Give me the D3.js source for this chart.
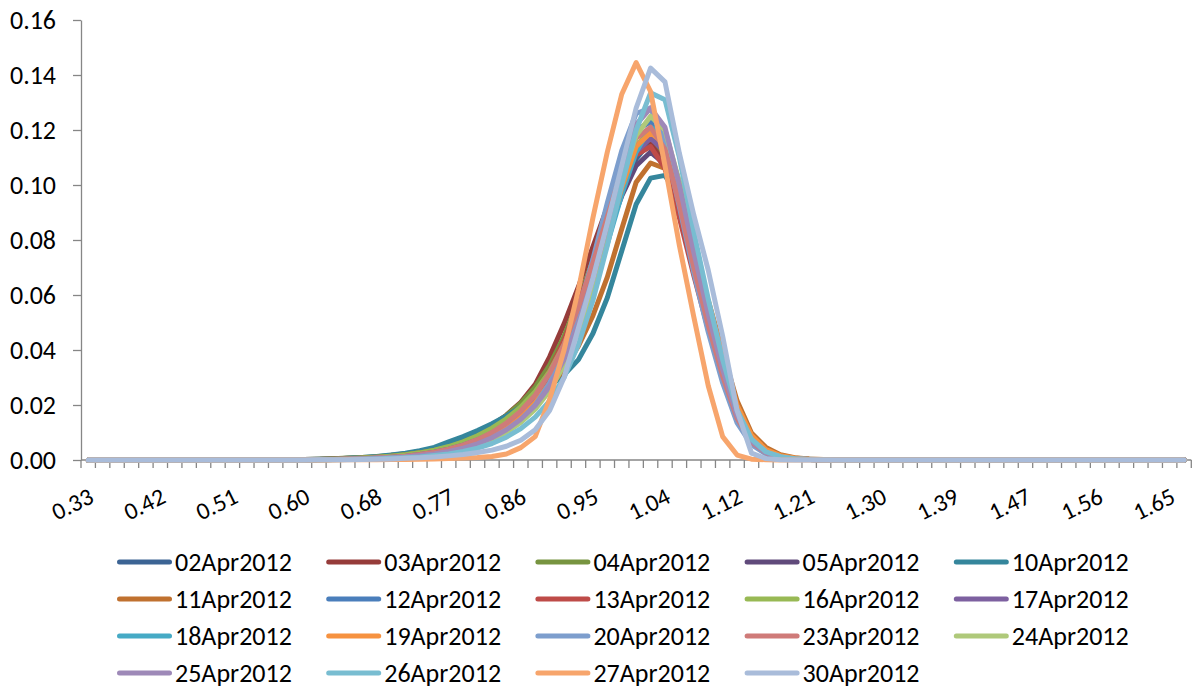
<!DOCTYPE html>
<html>
<head>
<meta charset="utf-8">
<script src="https://cdn.jsdelivr.net/npm/d3@7"></script>
<style>
  html, body { margin: 0; padding: 0; background: #ffffff; }
  svg { display: block; font-family: Carlito, Calibri, Lato, sans-serif; }
</style>
</head>
<body>
<script>
// ---------- DATA ----------
const categories = ["0.33","0.35","0.37","0.39","0.40","0.42","0.44","0.46","0.47","0.49",
  "0.51","0.53","0.54","0.56","0.58","0.60","0.61","0.63","0.65","0.67",
  "0.68","0.70","0.72","0.74","0.75","0.77","0.79","0.81","0.82","0.84",
  "0.86","0.88","0.89","0.91","0.93","0.95","0.96","0.98","1.00","1.02",
  "1.04","1.05","1.07","1.09","1.11","1.12","1.14","1.16","1.18","1.19",
  "1.21","1.23","1.25","1.26","1.28","1.30","1.32","1.33","1.35","1.37",
  "1.39","1.40","1.42","1.44","1.46","1.47","1.49","1.51","1.53","1.54",
  "1.56","1.58","1.60","1.61","1.63","1.65","1.67"];

const yTicks = [0, 0.02, 0.04, 0.06, 0.08, 0.10, 0.12, 0.14, 0.16];

const seriesNames = ["02Apr2012","03Apr2012","04Apr2012","05Apr2012","10Apr2012",
  "11Apr2012","12Apr2012","13Apr2012","16Apr2012","17Apr2012",
  "18Apr2012","19Apr2012","20Apr2012","23Apr2012","24Apr2012",
  "25Apr2012","26Apr2012","27Apr2012","30Apr2012"];

const seriesColors = ["#3C6494","#963C3A","#779440","#604A7B","#35869C",
  "#C0712F","#4A7EBB","#BE4B48","#98B954","#7D60A0",
  "#46AAC5","#F69240","#7D9ECD","#CF7B79","#AFC97A",
  "#9E89B8","#78BDD1","#F7A56C","#A9BCDA"];

const s02Apr = [0,0,0,0,0,0,0,0,0,0,0,0,0,0,
  0.0001,0.0001,0.0002,0.0003,0.0004,0.0006,0.0008,0.0011,0.0016,0.0022,0.0031,0.0043,0.0058,0.0078,0.0103,0.0136,0.0178,0.0233,0.0308,0.0405,0.0525,0.0665,0.0820,0.0975,0.1095,0.1160,0.1105,0.0935,0.0720,0.0515,0.0325,0.0165,0.0072,0.0030,0.0012,0.0005,0.0002,0.0001,
  0,0,0,0,0,0,0,0,0,0,0,0,0,0,0,0,0,0,0,0,0,0,0,0,0];
const s03Apr = [0,0,0,0,0,0,0,0,0,0,0,0,0,0,
  0.0001,0.0002,0.0003,0.0004,0.0006,0.0008,0.0011,0.0015,0.0021,0.0029,0.0040,0.0054,0.0072,0.0096,0.0126,0.0163,0.0210,0.0275,0.0375,0.0495,0.0630,0.0775,0.0920,0.1050,0.1140,0.1160,0.1080,0.0900,0.0690,0.0490,0.0305,0.0155,0.0068,0.0028,0.0011,0.0005,0.0002,0.0001,
  0,0,0,0,0,0,0,0,0,0,0,0,0,0,0,0,0,0,0,0,0,0,0,0,0];
const s04Apr = [0,0,0,0,0,0,0,0,0,0,0,0,0,0,
  0.0001,0.0002,0.0003,0.0005,0.0007,0.0009,0.0012,0.0017,0.0023,0.0031,0.0042,0.0056,0.0074,0.0097,0.0126,0.0162,0.0207,0.0265,0.0345,0.0450,0.0580,0.0725,0.0880,0.1030,0.1140,0.1180,0.1110,0.0935,0.0715,0.0510,0.0320,0.0162,0.0070,0.0029,0.0012,0.0005,0.0002,0.0001,
  0,0,0,0,0,0,0,0,0,0,0,0,0,0,0,0,0,0,0,0,0,0,0,0,0];
const s05Apr = [0,0,0,0,0,0,0,0,0,0,0,0,0,0,
  0.0001,0.0001,0.0002,0.0003,0.0004,0.0006,0.0008,0.0011,0.0016,0.0022,0.0031,0.0043,0.0059,0.0080,0.0107,0.0141,0.0185,0.0243,0.0320,0.0420,0.0540,0.0675,0.0820,0.0960,0.1070,0.1120,0.1075,0.0920,0.0715,0.0515,0.0330,0.0170,0.0075,0.0031,0.0013,0.0005,0.0002,0.0001,
  0,0,0,0,0,0,0,0,0,0,0,0,0,0,0,0,0,0,0,0,0,0,0,0,0];
const s10Apr = [0,0,0,0,0,0,0,0,0,0,0,0,0,0,
  0.0001,0.0002,0.0003,0.0004,0.0006,0.0009,0.0013,0.0018,0.0025,0.0034,0.0046,0.0066,0.0085,0.0107,0.0132,0.0160,0.0192,0.0228,0.0268,0.0310,0.0365,0.0460,0.0590,0.0760,0.0930,0.1025,0.1035,0.0950,0.0770,0.0570,0.0370,0.0195,0.0088,0.0037,0.0015,0.0006,0.0003,0.0001,
  0,0,0,0,0,0,0,0,0,0,0,0,0,0,0,0,0,0,0,0,0,0,0,0,0];
const s11Apr = [0,0,0,0,0,0,0,0,0,0,0,0,0,0,
  0.0001,0.0001,0.0002,0.0003,0.0005,0.0007,0.0010,0.0014,0.0019,0.0026,0.0035,0.0047,0.0062,0.0081,0.0104,0.0132,0.0166,0.0210,0.0265,0.0330,0.0415,0.0525,0.0665,0.0840,0.1010,0.1080,0.1060,0.0930,0.0756,0.0580,0.0395,0.0215,0.0098,0.0046,0.0019,0.0008,0.0004,0.0002,
  0.0001,0,0,0,0,0,0,0,0,0,0,0,0,0,0,0,0,0,0,0,0,0,0,0,0];
const s12Apr = [0,0,0,0,0,0,0,0,0,0,0,0,0,0,
  0.0001,0.0001,0.0002,0.0002,0.0003,0.0005,0.0007,0.0010,0.0014,0.0019,0.0027,0.0037,0.0051,0.0069,0.0093,0.0124,0.0166,0.0222,0.0300,0.0410,0.0550,0.0720,0.0900,0.1070,0.1200,0.1230,0.1130,0.0920,0.0690,0.0480,0.0295,0.0145,0.0062,0.0025,0.0010,0.0004,0.0002,0.0001,
  0,0,0,0,0,0,0,0,0,0,0,0,0,0,0,0,0,0,0,0,0,0,0,0,0];
const s13Apr = [0,0,0,0,0,0,0,0,0,0,0,0,0,0,
  0.0001,0.0001,0.0002,0.0003,0.0004,0.0006,0.0009,0.0012,0.0017,0.0024,0.0033,0.0045,0.0061,0.0082,0.0109,0.0143,0.0186,0.0243,0.0325,0.0435,0.0570,0.0720,0.0870,0.1010,0.1110,0.1140,0.1060,0.0880,0.0670,0.0475,0.0295,0.0148,0.0064,0.0026,0.0010,0.0004,0.0002,0.0001,
  0,0,0,0,0,0,0,0,0,0,0,0,0,0,0,0,0,0,0,0,0,0,0,0,0];
const s16Apr = [0,0,0,0,0,0,0,0,0,0,0,0,0,0,
  0.0001,0.0001,0.0002,0.0003,0.0005,0.0007,0.0010,0.0014,0.0019,0.0026,0.0036,0.0049,0.0066,0.0088,0.0116,0.0150,0.0193,0.0248,0.0322,0.0420,0.0545,0.0690,0.0850,0.1010,0.1140,0.1200,0.1140,0.0960,0.0735,0.0525,0.0330,0.0168,0.0073,0.0030,0.0012,0.0005,0.0002,0.0001,
  0,0,0,0,0,0,0,0,0,0,0,0,0,0,0,0,0,0,0,0,0,0,0,0,0];
const s17Apr = [0,0,0,0,0,0,0,0,0,0,0,0,0,0,
  0.0001,0.0001,0.0002,0.0002,0.0003,0.0005,0.0007,0.0010,0.0014,0.0020,0.0028,0.0039,0.0054,0.0073,0.0098,0.0130,0.0172,0.0228,0.0305,0.0405,0.0530,0.0680,0.0840,0.1000,0.1120,0.1170,0.1120,0.0950,0.0730,0.0520,0.0330,0.0168,0.0073,0.0030,0.0012,0.0005,0.0002,0.0001,
  0,0,0,0,0,0,0,0,0,0,0,0,0,0,0,0,0,0,0,0,0,0,0,0,0];
const s18Apr = [0,0,0,0,0,0,0,0,0,0,0,0,0,0,
  0.0001,0.0001,0.0001,0.0002,0.0003,0.0004,0.0006,0.0008,0.0011,0.0016,0.0022,0.0031,0.0043,0.0059,0.0081,0.0110,0.0148,0.0198,0.0265,0.0355,0.0470,0.0615,0.0785,0.0965,0.1120,0.1210,0.1180,0.1010,0.0780,0.0560,0.0355,0.0180,0.0078,0.0032,0.0013,0.0005,0.0002,0.0001,
  0,0,0,0,0,0,0,0,0,0,0,0,0,0,0,0,0,0,0,0,0,0,0,0,0];
const s19Apr = [0,0,0,0,0,0,0,0,0,0,0,0,0,0,
  0.0000,0.0001,0.0001,0.0002,0.0003,0.0004,0.0006,0.0008,0.0011,0.0016,0.0022,0.0031,0.0043,0.0060,0.0083,0.0114,0.0155,0.0208,0.0280,0.0375,0.0495,0.0640,0.0810,0.0990,0.1140,0.1190,0.1150,0.0990,0.0780,0.0575,0.0380,0.0200,0.0090,0.0038,0.0016,0.0007,0.0003,0.0001,
  0,0,0,0,0,0,0,0,0,0,0,0,0,0,0,0,0,0,0,0,0,0,0,0,0];
const s20Apr = [0,0,0,0,0,0,0,0,0,0,0,0,0,0,
  0.0000,0.0001,0.0001,0.0002,0.0002,0.0003,0.0005,0.0007,0.0010,0.0014,0.0020,0.0028,0.0039,0.0054,0.0075,0.0104,0.0144,0.0200,0.0280,0.0395,0.0545,0.0730,0.0935,0.1125,0.1260,0.1280,0.1150,0.0920,0.0680,0.0465,0.0280,0.0135,0.0056,0.0022,0.0009,0.0004,0.0002,0.0001,
  0,0,0,0,0,0,0,0,0,0,0,0,0,0,0,0,0,0,0,0,0,0,0,0,0];
const s23Apr = [0,0,0,0,0,0,0,0,0,0,0,0,0,0,
  0.0001,0.0001,0.0002,0.0002,0.0003,0.0005,0.0007,0.0010,0.0014,0.0020,0.0028,0.0039,0.0054,0.0074,0.0100,0.0134,0.0178,0.0236,0.0315,0.0420,0.0555,0.0715,0.0885,0.1050,0.1170,0.1210,0.1130,0.0930,0.0700,0.0490,0.0305,0.0152,0.0065,0.0026,0.0010,0.0004,0.0002,0.0001,
  0,0,0,0,0,0,0,0,0,0,0,0,0,0,0,0,0,0,0,0,0,0,0,0,0];
const s24Apr = [0,0,0,0,0,0,0,0,0,0,0,0,0,0,
  0.0000,0.0001,0.0001,0.0002,0.0002,0.0003,0.0005,0.0007,0.0010,0.0014,0.0020,0.0028,0.0039,0.0054,0.0074,0.0101,0.0137,0.0185,0.0252,0.0345,0.0470,0.0630,0.0820,0.1020,0.1180,0.1250,0.1200,0.1010,0.0770,0.0545,0.0340,0.0170,0.0072,0.0029,0.0011,0.0004,0.0002,0.0001,
  0,0,0,0,0,0,0,0,0,0,0,0,0,0,0,0,0,0,0,0,0,0,0,0,0];
const s25Apr = [0,0,0,0,0,0,0,0,0,0,0,0,0,0,
  0.0000,0.0001,0.0001,0.0002,0.0003,0.0004,0.0006,0.0008,0.0011,0.0016,0.0022,0.0031,0.0043,0.0059,0.0081,0.0110,0.0148,0.0198,0.0268,0.0365,0.0495,0.0660,0.0855,0.1060,0.1220,0.1280,0.1210,0.1000,0.0755,0.0530,0.0330,0.0163,0.0069,0.0027,0.0011,0.0004,0.0002,0.0001,
  0,0,0,0,0,0,0,0,0,0,0,0,0,0,0,0,0,0,0,0,0,0,0,0,0];
const s26Apr = [0,0,0,0,0,0,0,0,0,0,0,0,0,0,
  0.0000,0.0000,0.0001,0.0001,0.0002,0.0003,0.0004,0.0006,0.0008,0.0011,0.0016,0.0022,0.0031,0.0043,0.0060,0.0083,0.0114,0.0156,0.0215,0.0300,0.0420,0.0580,0.0780,0.1000,0.1200,0.1335,0.1310,0.1100,0.0830,0.0585,0.0365,0.0182,0.0076,0.0030,0.0012,0.0005,0.0002,0.0001,
  0,0,0,0,0,0,0,0,0,0,0,0,0,0,0,0,0,0,0,0,0,0,0,0,0];
const s27Apr = [0,0,0,0,0,0,0,0,0,0,0,0,0,0,
  0.0000,0.0000,0.0000,0.0000,0.0001,0.0001,0.0001,0.0002,0.0002,0.0003,0.0004,0.0005,0.0007,0.0009,0.0013,0.0022,0.0045,0.0085,0.0220,0.0400,0.0620,0.0880,0.1120,0.1330,0.1445,0.1340,0.1070,0.0780,0.0520,0.0270,0.0085,0.0018,0.0003,0.0001,0.0000,0.0000,0.0000,0.0000,
  0,0,0,0,0,0,0,0,0,0,0,0,0,0,0,0,0,0,0,0,0,0,0,0,0];
const s30Apr = [0,0,0,0,0,0,0,0,0,0,0,0,0,0,
  0.0000,0.0000,0.0001,0.0001,0.0001,0.0002,0.0003,0.0004,0.0006,0.0008,0.0011,0.0015,0.0020,0.0027,0.0036,0.0050,0.0072,0.0110,0.0180,0.0300,0.0480,0.0660,0.0860,0.1070,0.1280,0.1425,0.1375,0.1115,0.0890,0.0690,0.0450,0.0180,0.0025,0.0005,0.0001,0.0000,0.0000,0.0000,
  0,0,0,0,0,0,0,0,0,0,0,0,0,0,0,0,0,0,0,0,0,0,0,0,0];

const seriesValues = [s02Apr,s03Apr,s04Apr,s05Apr,s10Apr,s11Apr,s12Apr,s13Apr,s16Apr,s17Apr,
  s18Apr,s19Apr,s20Apr,s23Apr,s24Apr,s25Apr,s26Apr,s27Apr,s30Apr];

// ---------- CHART ----------
const W = 1193, H = 690;
const FONT = "Carlito, Calibri, Lato, sans-serif";
const svg = d3.select("body").append("svg").attr("width", W).attr("height", H);
svg.append("rect").attr("width", W).attr("height", H).attr("fill", "#fff");

// size fonts so that text widths match the reference picture
function fitSize(str, targetWidth) {
  const t = svg.append("text").attr("font-family", FONT).attr("font-size", 100).text(str);
  const w = t.node().getComputedTextLength();
  t.remove();
  return w > 0 ? 100 * targetWidth / w : 23;
}
const axisFont = fitSize("0.16", 46);
const legendFont = fitSize("02Apr2012", 117);

const x = d3.scaleBand().domain(categories).range([81, 1191.3]).padding(0);
const y = d3.scaleLinear().domain([0, 0.16]).range([460, 20]);
const bw = x.bandwidth();
const axisColor = "#868686";

// Y axis
const yAxis = svg.append("g").attr("transform", "translate(81,0)")
  .call(d3.axisLeft(y).tickValues(yTicks).tickFormat(d3.format(".2f"))
    .tickSize(8).tickSizeOuter(0).tickPadding(17));
yAxis.select(".domain").attr("stroke", axisColor).attr("stroke-width", 1.3);
yAxis.selectAll(".tick line").attr("stroke", axisColor).attr("stroke-width", 1.3);
yAxis.selectAll(".tick text").attr("font-size", axisFont).attr("fill", "#000")
  .attr("font-family", FONT);

// X axis (category axis, ticks between categories)
const xAxis = svg.append("g");
xAxis.append("line").attr("x1", 81).attr("x2", 1191.3).attr("y1", 460).attr("y2", 460)
  .attr("stroke", axisColor).attr("stroke-width", 1.3);
const tickPos = categories.map(c => x(c)).concat([x.range()[1]]);
xAxis.selectAll("line.xt").data(tickPos).join("line").attr("class", "xt")
  .attr("x1", d => d).attr("x2", d => d).attr("y1", 460).attr("y2", 468)
  .attr("stroke", axisColor).attr("stroke-width", 1.3);
xAxis.selectAll("text.xl").data(categories.filter((c, i) => i % 5 === 0)).join("text")
  .attr("class", "xl")
  .attr("transform", c => `translate(${x(c) + bw / 2 + 7},502) rotate(-26)`)
  .attr("text-anchor", "end").attr("font-size", axisFont * 0.93).attr("fill", "#000")
  .text(c => c);

// Lines
const line = d3.line()
  .x((d, i) => x(categories[i]) + bw / 2)
  .y(d => y(d));
svg.append("g").selectAll("path.series").data(seriesValues).join("path")
  .attr("class", "series")
  .attr("d", d => line(d))
  .attr("fill", "none")
  .attr("stroke", (d, i) => seriesColors[i])
  .attr("stroke-width", 5)
  .attr("stroke-linejoin", "round")
  .attr("stroke-linecap", "round");

// Legend
const legCols = 5, colW = 209.2, legX0 = 117, legY0 = 562, rowH = 37;
const leg = svg.append("g").selectAll("g").data(seriesNames).join("g")
  .attr("transform", (d, i) => `translate(${legX0 + (i % legCols) * colW},${legY0 + Math.floor(i / legCols) * rowH})`);
leg.append("line").attr("x1", 2.5).attr("x2", 52.5).attr("y1", 0).attr("y2", 0)
  .attr("stroke", (d, i) => seriesColors[i]).attr("stroke-width", 5).attr("stroke-linecap", "round");
leg.append("text").attr("x", 58).attr("y", 0).attr("dy", "0.35em")
  .attr("font-size", legendFont).attr("fill", "#000").text(d => d);

seriesValues.forEach((s, i) => { if (s.length !== categories.length) console.warn(seriesNames[i], s.length); });
</script>
</body>
</html>
